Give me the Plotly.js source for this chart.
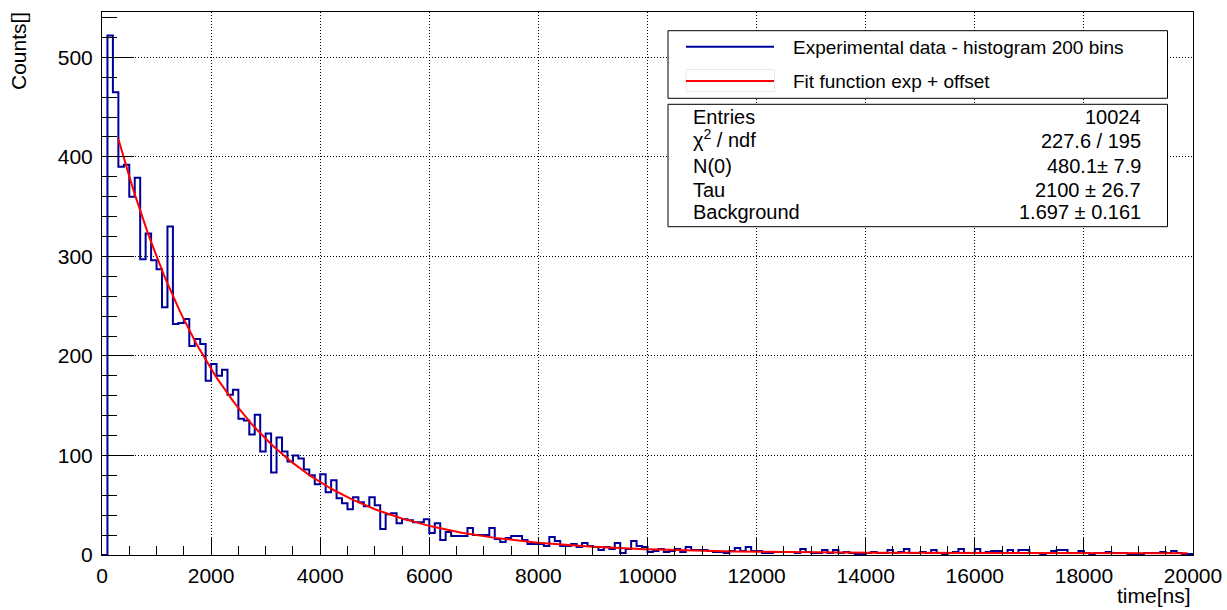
<!DOCTYPE html>
<html>
<head>
<meta charset="utf-8">
<script src="https://cdn.plot.ly/plotly-3.0.1.min.js"></script>
<style>
  html, body { margin: 0; padding: 0; background: #fff; }
  #chart { width: 1227px; height: 610px; }
</style>
</head>
<body>
<div id="chart"></div>
<script>
// ---------------- DATA ----------------
const binLow = 0;          // ns
const binHigh = 20000;     // ns
const nBins = 200;

// counts per bin (100 ns each)
const counts = [
  0, 522, 465, 390, 392, 360, 379, 297, 323, 296,
  287, 249, 330, 232, 233, 237, 210, 217, 212, 175,
  192, 180, 186, 161, 166, 137, 135, 121, 141, 104,
  122, 83, 118, 104, 94, 100, 97, 86, 80, 71,
  81, 63, 75, 57, 52, 46, 58, 53, 49, 58,
  50, 26, 41, 42, 32, 36, 35, 33, 33, 36,
  22, 32, 15, 23, 19, 19, 19, 27, 20, 20,
  20, 27, 16, 13, 17, 19, 19, 15, 11, 11,
  11, 9, 18, 14, 9, 9, 11, 8, 12, 9,
  8, 5, 8, 6, 12, 2, 6, 14, 9, 8,
  3, 4, 6, 3, 4, 6, 3, 8, 5, 5,
  5, 4, 3, 3, 2, 4, 7, 4, 8, 4,
  4, 2, 2, 3, 3, 3, 3, 2, 6, 3,
  2, 2, 5, 2, 5, 2, 3, 2, 1, 1,
  2, 3, 2, 2, 5, 2, 3, 6, 2, 2,
  3, 2, 5, 2, 1, 2, 3, 6, 2, 2,
  6, 2, 3, 4, 4, 2, 5, 2, 5, 5,
  2, 2, 1, 2, 4, 5, 5, 2, 2, 4,
  2, 1, 2, 2, 3, 2, 2, 2, 1, 0,
  1, 2, 2, 2, 3, 2, 4, 2, 1, 1
];

// fit: N(t) = N0 * exp(-t / Tau) + Background
const fitNames = ["N(0)", "Tau", "Background"];
const fitValues = [480.1, 2100, 1.697];
const fitErrors = [7.9, 26.7, 0.161];
const fitRange = [300, 19900];

const entries = 10024;
const chi2 = 227.6;
const ndf = 195;

const legendLabels = ["Experimental data - histogram 200 bins", "Fit function exp + offset"];
const xTitle = "time[ns]";
const yTitle = "Counts[]";

// ---------------- BUILD ----------------
const binWidth = (binHigh - binLow) / nBins;
const histX = [], histY = [];
for (let i = 0; i < nBins; i++) { histX.push(binLow + i * binWidth); histY.push(counts[i]); }
histX.push(binHigh); histY.push(counts[nBins - 1]);

const fitX = [], fitY = [];
const nFit = 400;
for (let i = 0; i <= nFit; i++) {
  const t = fitRange[0] + (fitRange[1] - fitRange[0]) * i / nFit;
  fitX.push(t);
  fitY.push(fitValues[0] * Math.exp(-t / fitValues[1]) + fitValues[2]);
}

const BLUE = "#000099";
const RED = "#ff0000";
const FONT = "Liberation Sans, Arial, Helvetica, sans-serif";

// pixel -> paper helpers (plot area: x 102..1193, y 12..555)
const L = 102, R = 34, T = 12, B = 55;
const PW = 1227 - L - R, PH = 610 - T - B;
const px = x => (x - L) / PW;
const py = y => (610 - B - y) / PH;

const traces = [
  { x: histX, y: histY, type: "scatter", mode: "lines",
    line: { shape: "hv", color: BLUE, width: 2 }, hoverinfo: "skip", showlegend: false },
  { x: fitX, y: fitY, type: "scatter", mode: "lines",
    line: { color: RED, width: 2 }, hoverinfo: "skip", showlegend: false }
];

const shapes = [
  // legend box
  { type: "rect", xref: "paper", yref: "paper", x0: px(668), x1: px(1167.5), y0: py(30.7), y1: py(98.3),
    line: { color: "black", width: 1 }, fillcolor: "white", layer: "above" },
  { type: "rect", xref: "paper", yref: "paper", x0: px(686), x1: px(774.5), y0: py(69.5), y1: py(91.7),
    line: { color: "#e8e8e8", width: 1 }, fillcolor: "rgba(0,0,0,0)", layer: "above" },
  { type: "line", xref: "paper", yref: "paper", x0: px(686), x1: px(774), y0: py(46.7), y1: py(46.7),
    line: { color: BLUE, width: 2 }, layer: "above" },
  { type: "line", xref: "paper", yref: "paper", x0: px(686), x1: px(774), y0: py(81), y1: py(81),
    line: { color: RED, width: 2 }, layer: "above" },
  // stats box
  { type: "rect", xref: "paper", yref: "paper", x0: px(668), x1: px(1167.5), y0: py(104.3), y1: py(226.7),
    line: { color: "black", width: 1 }, fillcolor: "white", layer: "above" }
];

function ann(text, x, y, xanchor, size, extra) {
  return Object.assign({ text: text, xref: "paper", yref: "paper", x: px(x), y: py(y),
    xanchor: xanchor, yanchor: "middle", showarrow: false,
    font: { family: FONT, size: size, color: "black" } }, extra || {});
}

const statRowsY = [116.8, 140.5, 165.5, 190, 212];
const fmtErr = i => fitValues[i] + " \u00b1 " + fitErrors[i];
const annotations = [
  ann(legendLabels[0], 791, 47.3, "left", 19),
  ann(legendLabels[1], 791, 81, "left", 19),
  ann("Entries", 691, statRowsY[0], "left", 20),
  ann(String(entries), 1143, statRowsY[0], "right", 20),
  ann("\u03c7<sup>2</sup> / ndf", 691, statRowsY[1] - 2, "left", 20),
  ann(chi2 + " / " + ndf, 1143, statRowsY[1], "right", 20),
  ann(fitNames[0], 691, statRowsY[2], "left", 20),
  ann(fitValues[0] + "\u00b1 " + fitErrors[0], 1143, statRowsY[2], "right", 20),
  ann(fitNames[1], 691, statRowsY[3], "left", 20),
  ann(fmtErr(1), 1143, statRowsY[3], "right", 20),
  ann(fitNames[2], 691, statRowsY[4], "left", 20),
  ann(fmtErr(2), 1143, statRowsY[4], "right", 20),
  ann(xTitle, 1193, 595, "right", 21),
  ann(yTitle, 18, 51, "center", 21, { textangle: -90 })
];

const axisCommon = {
  showline: true, linecolor: "black", linewidth: 1, mirror: true,
  showgrid: true, gridcolor: "black", gridwidth: 1, griddash: "1px,2px",
  zeroline: false, ticks: "inside", tickcolor: "black", tickwidth: 1,
  tickformat: "d", exponentformat: "none", separatethousands: false,
  tickfont: { family: FONT, size: 21, color: "black" }
};

const layout = {
  width: 1227, height: 610,
  margin: { l: L, r: R, t: T, b: B, pad: 0 },
  paper_bgcolor: "white", plot_bgcolor: "white",
  showlegend: false,
  xaxis: Object.assign({}, axisCommon, {
    range: [binLow, binHigh], tick0: 0, dtick: 2000, ticklen: 17,
    minor: { ticks: "inside", ticklen: 9, dtick: 500, tickcolor: "black", tickwidth: 1, showgrid: false },
    ticklabelstandoff: 2
  }),
  yaxis: Object.assign({}, axisCommon, {
    range: [0, 545.5], tick0: 0, dtick: 100, ticklen: 32,
    minor: { ticks: "inside", ticklen: 15, dtick: 20, tickcolor: "black", tickwidth: 1, showgrid: false },
    ticklabelstandoff: 4
  }),
  shapes: shapes,
  annotations: annotations
};

Plotly.newPlot("chart", traces, layout, { staticPlot: true, displayModeBar: false });
</script>
</body>
</html>
